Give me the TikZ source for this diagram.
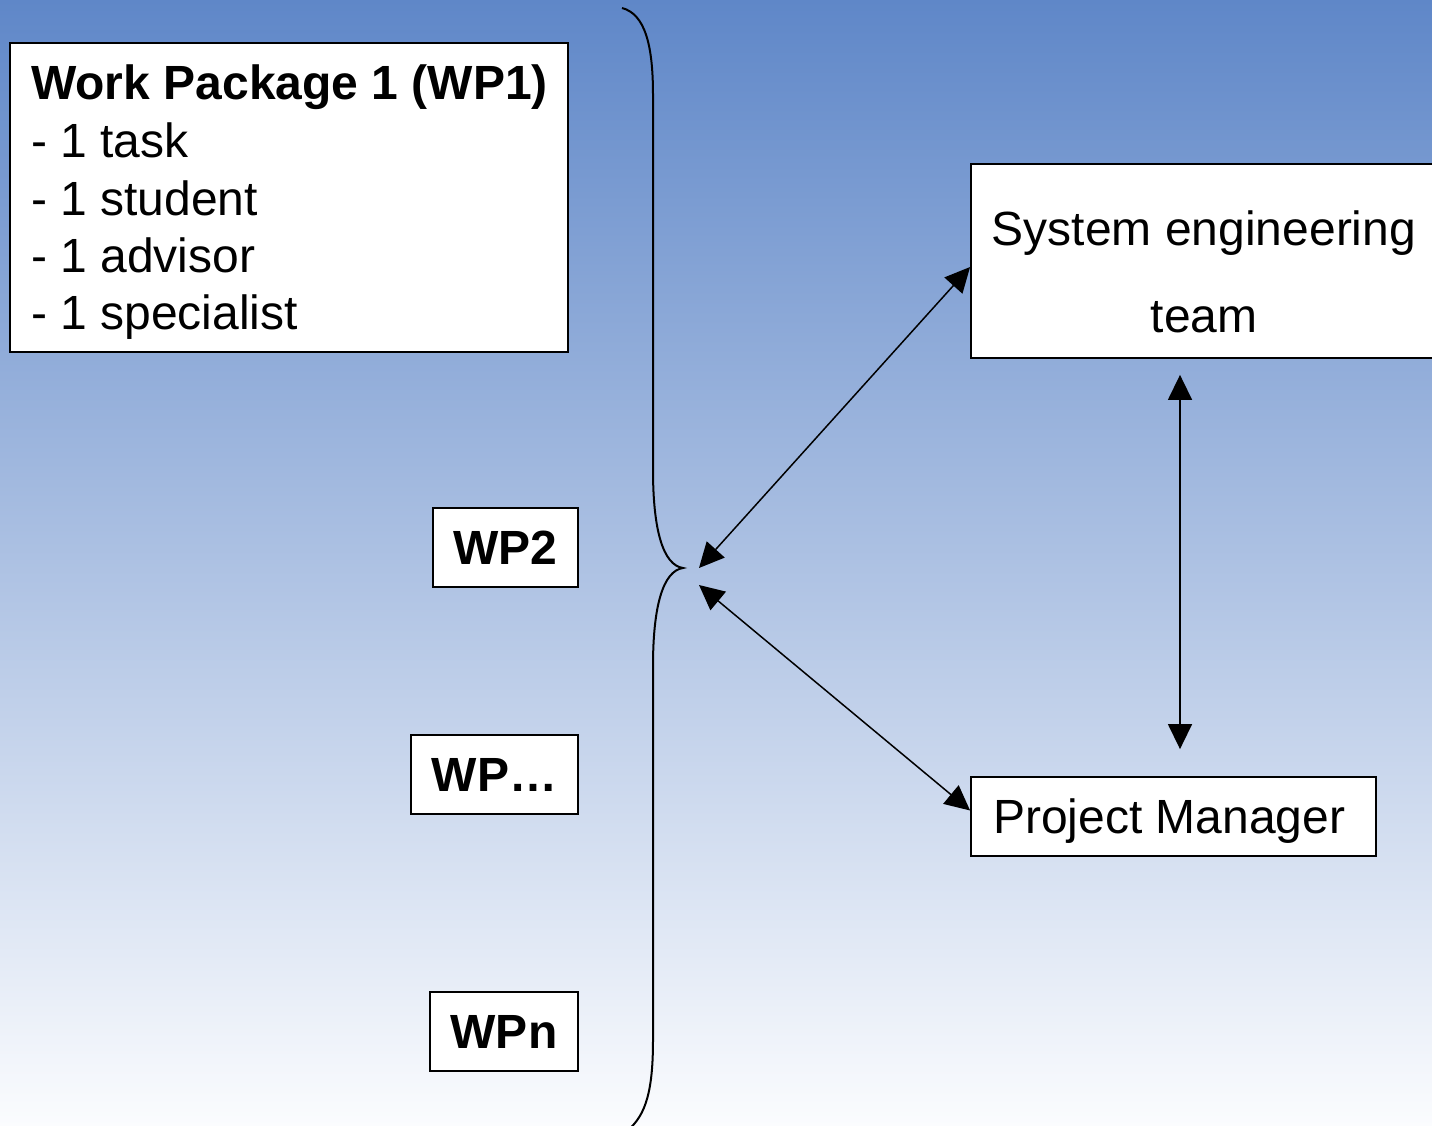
\documentclass[tikz,border=0pt]{standalone}
\usepackage{fontspec}
\setmainfont{Liberation Sans}
\usetikzlibrary{arrows.meta}

\definecolor{skytop}{RGB}{95,135,200}
\definecolor{skymid}{RGB}{188,200,228}
\definecolor{skybot}{RGB}{251,252,254}

\tikzset{
  box/.style={draw=black, line width=1.8pt, fill=white, inner sep=0pt},
  label/.style={inner sep=0pt, font=\fontsize{48}{57.5}\selectfont},
  boldlabel/.style={label, font=\fontsize{48}{57.5}\selectfont\bfseries},
  link/.style={line width=1.5pt,
    {Triangle[length=25pt,width=24pt]}-{Triangle[length=25pt,width=24pt]}},
  bracket/.style={line width=2pt}
}

\begin{document}
\begin{tikzpicture}[x=1pt,y=-1pt]
  \useasboundingbox (0,0) rectangle (1432,1126);
  \clip (0,0) rectangle (1432,1126);

  % background
  \shade[top color=skytop, middle color=skymid, bottom color=skybot]
    (0,0) rectangle (1432,1126);

  % work package 1
  \node[box, minimum width=558pt, minimum height=309pt] (wp1) at (289,197.5) {};
  \node[boldlabel, anchor=base west] (wp1title) at (31,100) {Work Package 1 (WP1)};
  \node[label, anchor=base west] (wp1a) at (31,158) {- 1 task};
  \node[label, anchor=base west] (wp1b) at (31,215) {- 1 student};
  \node[label, anchor=base west] (wp1c) at (31,272) {- 1 advisor};
  \node[label, anchor=base west] (wp1d) at (31,329) {- 1 specialist};

  % further work packages
  \node[box, boldlabel, minimum width=145pt, minimum height=79pt] (wp2) at (505.5,547.5) {WP2};
  \node[box, boldlabel, minimum width=167pt, minimum height=79pt] (wpdots) at (494.5,774.5) {WP…};
  \node[box, boldlabel, minimum width=148pt, minimum height=79pt] (wpn) at (504,1031.5) {WPn};

  % curly bracket grouping the work packages
  \coordinate (tip) at (683,568);
  \draw[bracket] (622,8) .. controls (645,14) and (653,45) .. (653,95)
    -- (653,470) .. controls (653,530) and (663,565) .. (tip)
    .. controls (663,571) and (653,606) .. (653,666)
    -- (653,1040) .. controls (653,1090) and (646,1115) .. (628,1130);

  % system engineering team
  \node[box, minimum width=466pt, minimum height=194pt] (se) at (1204,261) {};
  \node[label, anchor=base] (se1) at (1204,245) {System engineering};
  \node[label, anchor=base] (se2) at (1204,332) {team};

  % project manager
  \node[box, minimum width=405pt, minimum height=79pt] (pm) at (1173.5,816.5) {};
  \node[label, anchor=base west] (pmtext) at (993,833) {Project Manager};

  % links
  \draw[link] ([xshift=16pt]tip) -- ([yshift=-6pt]se.west);
  \draw[link] ([xshift=16pt,yshift=-17pt]tip) -- ([yshift=6pt]pm.west);
  \draw[link] ([xshift=-24pt,yshift=-16pt]se.south) -- ([xshift=6.5pt,yshift=27pt]pm.north);
\end{tikzpicture}
\end{document}
